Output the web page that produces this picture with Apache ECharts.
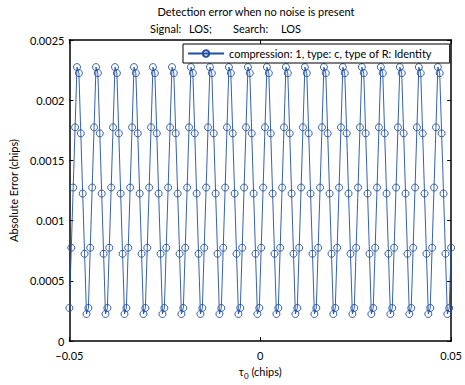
<!DOCTYPE html>
<html><head><meta charset="utf-8">
<script src="https://cdn.jsdelivr.net/npm/echarts@6/dist/echarts.min.js"></script>
<style>html,body{margin:0;padding:0;background:#fff}#c{width:465px;height:385px}</style>
</head><body><div id="c"></div>
<script>
// tau_0 sample positions (chips), 202 samples from -0.05 to 0.05
const tau = [
-0.05000,-0.04950,-0.04900,-0.04851,-0.04801,-0.04751,-0.04701,-0.04652,-0.04602,-0.04552,
-0.04502,-0.04453,-0.04403,-0.04353,-0.04303,-0.04254,-0.04204,-0.04154,-0.04104,-0.04055,
-0.04005,-0.03955,-0.03905,-0.03856,-0.03806,-0.03756,-0.03706,-0.03657,-0.03607,-0.03557,
-0.03507,-0.03458,-0.03408,-0.03358,-0.03308,-0.03259,-0.03209,-0.03159,-0.03109,-0.03060,
-0.03010,-0.02960,-0.02910,-0.02861,-0.02811,-0.02761,-0.02711,-0.02662,-0.02612,-0.02562,
-0.02512,-0.02463,-0.02413,-0.02363,-0.02313,-0.02264,-0.02214,-0.02164,-0.02114,-0.02065,
-0.02015,-0.01965,-0.01915,-0.01866,-0.01816,-0.01766,-0.01716,-0.01667,-0.01617,-0.01567,
-0.01517,-0.01468,-0.01418,-0.01368,-0.01318,-0.01269,-0.01219,-0.01169,-0.01119,-0.01070,
-0.01020,-0.00970,-0.00920,-0.00871,-0.00821,-0.00771,-0.00721,-0.00672,-0.00622,-0.00572,
-0.00522,-0.00473,-0.00423,-0.00373,-0.00323,-0.00274,-0.00224,-0.00174,-0.00124,-0.00075,
-0.00025,0.00025,0.00075,0.00124,0.00174,0.00224,0.00274,0.00323,0.00373,0.00423,
0.00473,0.00522,0.00572,0.00622,0.00672,0.00721,0.00771,0.00821,0.00871,0.00920,
0.00970,0.01020,0.01070,0.01119,0.01169,0.01219,0.01269,0.01318,0.01368,0.01418,
0.01468,0.01517,0.01567,0.01617,0.01667,0.01716,0.01766,0.01816,0.01866,0.01915,
0.01965,0.02015,0.02065,0.02114,0.02164,0.02214,0.02264,0.02313,0.02363,0.02413,
0.02463,0.02512,0.02562,0.02612,0.02662,0.02711,0.02761,0.02811,0.02861,0.02910,
0.02960,0.03010,0.03060,0.03109,0.03159,0.03209,0.03259,0.03308,0.03358,0.03408,
0.03458,0.03507,0.03557,0.03607,0.03657,0.03706,0.03756,0.03806,0.03856,0.03905,
0.03955,0.04005,0.04055,0.04104,0.04154,0.04204,0.04254,0.04303,0.04353,0.04403,
0.04453,0.04502,0.04552,0.04602,0.04652,0.04701,0.04751,0.04801,0.04851,0.04900,
0.04950,0.05000
];
// absolute error (chips)
const absErr = [
0.000275,0.000775,0.001275,0.001775,0.002275,0.002225,0.001725,0.001225,0.000725,0.000225,
0.000275,0.000775,0.001275,0.001775,0.002275,0.002225,0.001725,0.001225,0.000725,0.000225,
0.000275,0.000775,0.001275,0.001775,0.002275,0.002225,0.001725,0.001225,0.000725,0.000225,
0.000275,0.000775,0.001275,0.001775,0.002275,0.002225,0.001725,0.001225,0.000725,0.000225,
0.000275,0.000775,0.001275,0.001775,0.002275,0.002225,0.001725,0.001225,0.000725,0.000225,
0.000275,0.000775,0.001275,0.001775,0.002275,0.002225,0.001725,0.001225,0.000725,0.000225,
0.000275,0.000775,0.001275,0.001775,0.002275,0.002225,0.001725,0.001225,0.000725,0.000225,
0.000275,0.000775,0.001275,0.001775,0.002275,0.002225,0.001725,0.001225,0.000725,0.000225,
0.000275,0.000775,0.001275,0.001775,0.002275,0.002225,0.001725,0.001225,0.000725,0.000225,
0.000275,0.000775,0.001275,0.001775,0.002275,0.002225,0.001725,0.001225,0.000725,0.000225,
0.000275,0.000775,0.001275,0.001775,0.002275,0.002225,0.001725,0.001225,0.000725,0.000225,
0.000275,0.000775,0.001275,0.001775,0.002275,0.002225,0.001725,0.001225,0.000725,0.000225,
0.000275,0.000775,0.001275,0.001775,0.002275,0.002225,0.001725,0.001225,0.000725,0.000225,
0.000275,0.000775,0.001275,0.001775,0.002275,0.002225,0.001725,0.001225,0.000725,0.000225,
0.000275,0.000775,0.001275,0.001775,0.002275,0.002225,0.001725,0.001225,0.000725,0.000225,
0.000275,0.000775,0.001275,0.001775,0.002275,0.002225,0.001725,0.001225,0.000725,0.000225,
0.000275,0.000775,0.001275,0.001775,0.002275,0.002225,0.001725,0.001225,0.000725,0.000225,
0.000275,0.000775,0.001275,0.001775,0.002275,0.002225,0.001725,0.001225,0.000725,0.000225,
0.000275,0.000775,0.001275,0.001775,0.002275,0.002225,0.001725,0.001225,0.000725,0.000225,
0.000275,0.000775,0.001275,0.001775,0.002275,0.002225,0.001725,0.001225,0.000725,0.000225,
0.000275,0.000775
];
const xTickValues = [-0.05, 0, 0.05];
const xTickLabels = ['\u22120.05', '0', '0.05'];
const yTickValues = [0, 0.0005, 0.001, 0.0015, 0.002, 0.0025];
const yTickLabels = ['0', '0.0005', '0.001', '0.0015', '0.002', '0.0025'];
const titleLine1 = 'Detection error when no noise is present';
const titleLine2Parts = ['Signal:', 'LOS;', 'Search:', 'LOS'];
const seriesName = 'compression: 1, type: c, type of R: Identity';
const yName = 'Absolute Error (chips)';

const FONT = 'Lato';
const FS = 11;
const BLUE = '#1f50a2';
const title2X = [150, 189, 233, 281];

function lookup(vals, labels, v) {
  let best = 0;
  for (let i = 1; i < vals.length; i++) if (Math.abs(vals[i] - v) < Math.abs(vals[best] - v)) best = i;
  return Math.abs(vals[best] - v) < 1e-9 ? labels[best] : '';
}

const chart = echarts.init(document.getElementById('c'), null, {renderer: 'svg'});
const axisCommon = {
  axisLine: {show: true, onZero: false, lineStyle: {color: '#000', width: 1.5}},
  axisTick: {show: true, inside: true, length: 4, lineStyle: {color: '#000', width: 1}},
  splitLine: {show: false}
};
const graphics = [
  {type: 'text', x: 256, y: 11, style: {text: titleLine1, font: FS + 'px ' + FONT, fill: '#000', textAlign: 'center', textVerticalAlign: 'middle'}}
].concat(titleLine2Parts.map((t, i) => ({
  type: 'text', x: title2X[i], y: 28,
  style: {text: t, font: FS + 'px ' + FONT, fill: '#000', textAlign: 'left', textVerticalAlign: 'middle'}
})));

chart.setOption({
  animation: false,
  backgroundColor: '#fff',
  textStyle: {fontFamily: FONT},
  grid: {left: 67, right: 8, top: 40, bottom: 39, containLabel: false},
  graphic: graphics,
  legend: {
    left: 183, top: 44,
    padding: [4, 18, 4, 4],
    borderColor: '#000', borderWidth: 1,
    backgroundColor: '#fff',
    itemWidth: 36, itemHeight: 8, itemGap: 0,
    textStyle: {fontFamily: FONT, fontSize: FS, color: '#000'},
    data: [seriesName]
  },
  xAxis: [
    Object.assign({}, axisCommon, {
      type: 'value', min: -0.05, max: 0.05, interval: 0.05, position: 'bottom',
      axisLabel: {show: true, margin: 9, color: '#000', fontFamily: FONT, fontSize: FS,
        formatter: v => lookup(xTickValues, xTickLabels, v)},
      name: '{t|τ}{s|0}{t| (chips)}', nameLocation: 'middle', nameGap: 22,
      nameTextStyle: {rich: {
        t: {fontFamily: FONT, fontSize: FS, color: '#000', verticalAlign: 'top'},
        s: {fontFamily: FONT, fontSize: 8, color: '#000', padding: [6, 0, 0, 0], verticalAlign: 'top'}
      }}
    }),
    Object.assign({}, axisCommon, {
      type: 'value', min: -0.05, max: 0.05, interval: 0.05, position: 'top',
      axisLabel: {show: false}
    })
  ],
  yAxis: [
    Object.assign({}, axisCommon, {
      type: 'value', min: 0, max: 0.0025, interval: 0.0005, position: 'left',
      axisLabel: {show: true, margin: 5, color: '#000', fontFamily: FONT, fontSize: FS,
        formatter: v => lookup(yTickValues, yTickLabels, v)},
      name: yName, nameLocation: 'middle', nameGap: 37,
      nameTextStyle: {fontFamily: FONT, fontSize: FS, color: '#000'}
    }),
    Object.assign({}, axisCommon, {
      type: 'value', min: 0, max: 0.0025, interval: 0.0005, position: 'right',
      axisLabel: {show: false}
    })
  ],
  series: [{
    name: seriesName,
    type: 'line',
    data: tau.map((x, i) => [x, absErr[i]]),
    symbol: 'circle', symbolSize: 7,
    showAllSymbol: true,
    lineStyle: {color: BLUE, width: 0.9},
    itemStyle: {color: 'rgba(255,255,255,0)', borderColor: BLUE, borderWidth: 0.9},
    clip: false
  }]
});
</script></body></html>
